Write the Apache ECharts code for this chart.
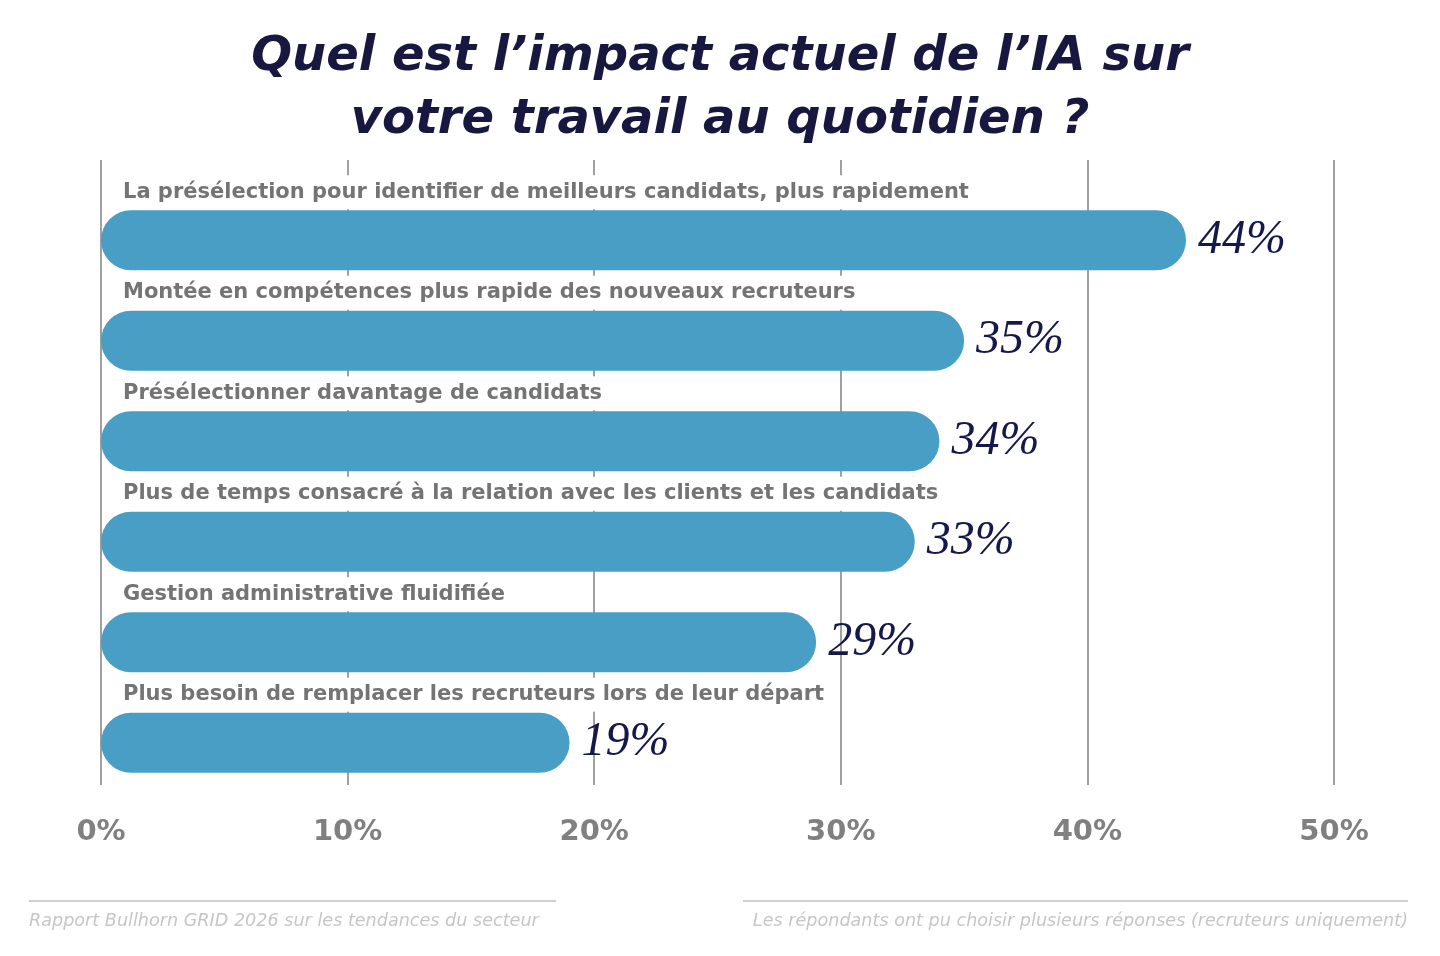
<!DOCTYPE html>
<html>
<head>
<meta charset="utf-8">
<script src="https://cdn.jsdelivr.net/npm/echarts@6/dist/echarts.min.js"></script>
<style>
  html, body { margin: 0; padding: 0; background: #fff; }
  #chart { width: 1440px; height: 956px; }
</style>
</head>
<body>
<div id="chart"></div>
<script>
const categories = [
  'La présélection pour identifier de meilleurs candidats, plus rapidement',
  'Montée en compétences plus rapide des nouveaux recruteurs',
  'Présélectionner davantage de candidats',
  'Plus de temps consacré à la relation avec les clients et les candidats',
  'Gestion administrative fluidifiée',
  'Plus besoin de remplacer les recruteurs lors de leur départ'
];
const values = [44, 35, 34, 33, 29, 19];
const tickValues = [0, 10, 20, 30, 40, 50];

const titleLines = "Quel est l’impact actuel de l’IA sur\nvotre travail au quotidien ?";
const sourceText = 'Rapport Bullhorn GRID 2026 sur les tendances du secteur';
const noteText = 'Les répondants ont pu choisir plusieurs réponses (recruteurs uniquement)';

const chart = echarts.init(document.getElementById('chart'));

const option = {
  backgroundColor: '#ffffff',
  animation: false,
  title: {
    text: titleLines,
    left: 'center',
    top: 21,
    textStyle: {
      fontFamily: 'DejaVu Sans',
      fontStyle: 'italic',
      fontWeight: 'bold',
      fontSize: 48,
      lineHeight: 63,
      color: '#17173f'
    }
  },
  grid: [
    { left: 101, right: 106, top: 190, bottom: 163 },
    { left: 101, right: 106, top: 160, bottom: 171 }
  ],
  xAxis: [
    {
      gridIndex: 0, type: 'value', min: 0, max: 50, interval: 10,
      show: false
    },
    {
      gridIndex: 1, type: 'value', min: 0, max: 50, interval: 10,
      axisLine: { show: false },
      axisTick: { show: false },
      splitLine: { show: true, lineStyle: { color: '#a0a0a0', width: 2 } },
      axisLabel: {
        margin: 33,
        fontFamily: 'DejaVu Sans',
        fontWeight: 'bold',
        fontSize: 29,
        color: '#808080',
        formatter: v => tickValues.includes(v) ? v + '%' : ''
      }
    }
  ],
  yAxis: [
    {
      gridIndex: 0, type: 'category', data: categories, inverse: true,
      show: false
    },
    {
      gridIndex: 1, type: 'category', data: [''], show: false
    }
  ],
  series: [
    {
      type: 'bar',
      xAxisIndex: 0,
      yAxisIndex: 0,
      data: values,
      barWidth: 60,
      z: 7,
      itemStyle: { color: '#489ec5', borderRadius: 30 },
      label: {
        show: true,
        position: 'right',
        distance: 12,
        formatter: '{c}%',
        fontFamily: 'Liberation Serif',
        fontStyle: 'italic',
        fontSize: 48,
        color: '#15184a'
      }
    },
    {
      type: 'bar',
      xAxisIndex: 0,
      yAxisIndex: 0,
      data: values.map(() => 0),
      barGap: '-100%',
      barWidth: 60,
      z: 6,
      itemStyle: { color: 'transparent' },
      label: {
        show: true,
        position: [16, -18],
        verticalAlign: 'middle',
        align: 'left',
        formatter: p => categories[p.dataIndex],
        fontFamily: 'DejaVu Sans',
        fontWeight: 'bold',
        fontSize: 21,
        lineHeight: 26,
        color: '#747474',
        backgroundColor: '#ffffff',
        padding: [5, 6, 3, 6]
      }
    }
  ],
  graphic: [
    { type: 'line', shape: { x1: 29, y1: 901, x2: 556, y2: 901 }, style: { stroke: '#d0d0d0', lineWidth: 2 } },
    { type: 'line', shape: { x1: 743, y1: 901, x2: 1408, y2: 901 }, style: { stroke: '#d0d0d0', lineWidth: 2 } },
    {
      type: 'text', left: 29, top: 912,
      style: { text: sourceText, fontFamily: 'DejaVu Sans', fontStyle: 'italic', fontSize: 17.6, fill: '#c6c6c6' }
    },
    {
      type: 'text', right: 32, top: 912,
      style: { text: noteText, fontFamily: 'DejaVu Sans', fontStyle: 'italic', fontSize: 17.6, fill: '#c6c6c6' }
    }
  ]
};

chart.setOption(option);
</script>
</body>
</html>
